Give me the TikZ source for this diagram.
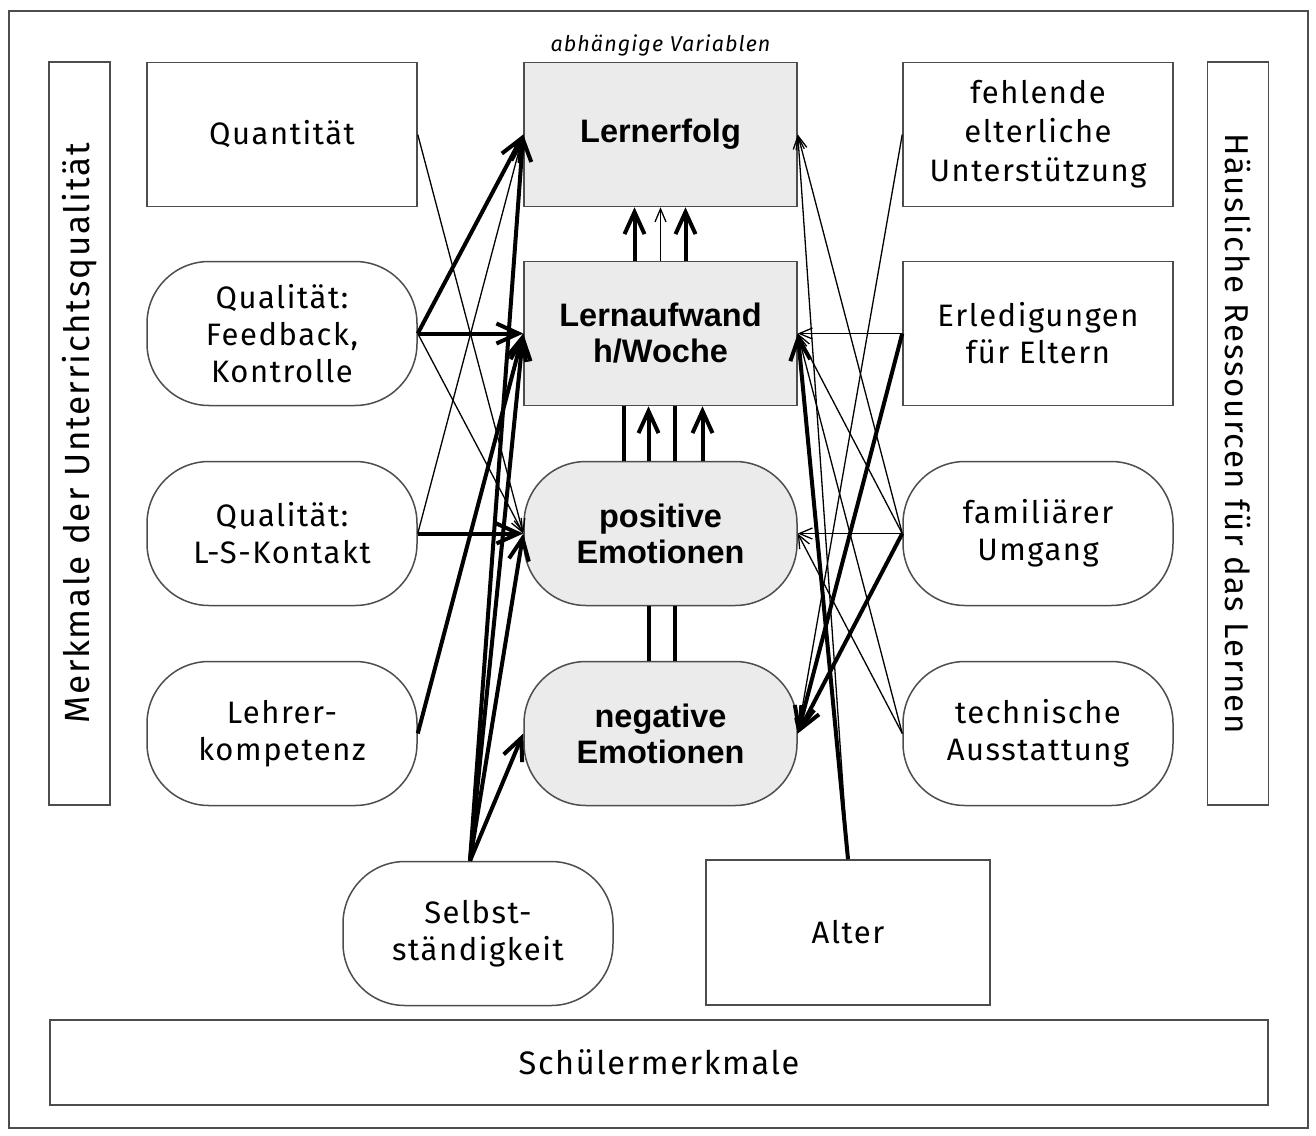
\documentclass[tikz,border=0pt]{standalone}
\usepackage{fontspec}
\setmainfont{Fira Sans}[LetterSpace=5]
\newfontfamily\arialfont{Liberation Sans}
\usetikzlibrary{arrows.meta}
\definecolor{rahmen}{HTML}{4D4D4D}
\definecolor{grau}{HTML}{EBEBEB}
\tikzset{
  kasten/.style={draw=rahmen, line width=1.5pt, minimum width=270pt, minimum height=144pt,
    inner sep=0pt, align=center, font=\fontsize{31}{37}\selectfont},
  oval/.style={kasten, rounded corners=62pt},
  abh/.style={fill=grau, minimum width=273pt, font=\arialfont\bfseries\fontsize{32.5}{36}\selectfont},
  leiste/.style={draw=rahmen, line width=1.5pt, inner sep=0pt, font=\fontsize{32.5}{36}\selectfont},
  duenn/.style={-{Straight Barb[length=13pt,width=11pt]}, line width=1.3pt},
  dick/.style={-{Straight Barb[length=22pt,width=20pt]}, line width=4pt},
  balken/.style={line width=4pt},
}
\begin{document}
\begin{tikzpicture}[x=1pt,y=-1pt]
\useasboundingbox (0,0) rectangle (1316,1135);
\draw[draw=rahmen, line width=1.5pt] (9,11) rectangle (1308,1128);
% Leisten
\node[leiste, rotate=90, minimum width=743pt, minimum height=61pt, font=\fontsize{35}{36}\selectfont] (unterricht) at (79.5,433.5) {Merkmale der Unterrichtsqualität};
\node[leiste, rotate=-90, minimum width=743pt, minimum height=61pt, font=\fontsize{33}{36}\selectfont] (haus) at (1238,433.5) {Häusliche Ressourcen für das Lernen};
\node[leiste, minimum width=1218pt, minimum height=85pt] (schueler) at (659,1062.5) {Schülermerkmale};
% links
\node[kasten] (quantitaet) at (282,134.5) {Quantität};
\node[oval] (feedback) at (282,333.5) {Qualität:\\Feedback,\\Kontrolle};
\node[oval] (kontakt) at (282,533.5) {Qualität:\\L-S-Kontakt};
\node[oval] (lehrer) at (282,733.5) {Lehrer-\\kompetenz};
% abhaengige Variablen
\node[font=\itshape\fontsize{21.5}{24}\selectfont] (titel) at (660.5,45) {abhängige Variablen};
\node[kasten, abh] (erfolg) at (660.5,134.5) {Lernerfolg};
\node[kasten, abh] (aufwand) at (660.5,333.5) {Lernaufwand\\h/Woche};
\node[oval, abh] (positiv) at (660.5,533.5) {positive\\Emotionen};
\node[oval, abh] (negativ) at (660.5,733.5) {negative\\Emotionen};
% rechts
\node[kasten, font=\fontsize{31}{39}\selectfont] (eltern) at (1038,134.5) {fehlende\\elterliche\\Unterstützung};
\node[kasten] (erledigung) at (1038,333.5) {Erledigungen\\für Eltern};
\node[oval] (umgang) at (1038,533.5) {familiärer\\Umgang};
\node[oval] (technik) at (1038,733.5) {technische\\Ausstattung};
% unten
\node[oval] (selbst) at (478,933.5) {Selbst-\\ständigkeit};
\node[kasten, minimum width=284pt, minimum height=145pt] (alter) at (848,932.5) {Alter};

% Unterrichtsqualitaet
\draw[duenn] (quantitaet.east) -- (positiv.west);
\draw[dick] (feedback.east) -- (erfolg.west);
\draw[dick] (feedback.east) -- (aufwand.west);
\draw[duenn] (feedback.east) -- (positiv.west);
\draw[duenn] (kontakt.east) -- (erfolg.west);
\draw[dick] (kontakt.east) -- (positiv.west);
\draw[dick] (lehrer.east) -- (aufwand.west);
% Selbststaendigkeit
\coordinate (sq) at ([xshift=-8pt]selbst.north);
\foreach \ziel in {erfolg,aufwand,positiv,negativ}
  \draw[dick] (sq) -- (\ziel.west);
% haeusliche Ressourcen
\draw[duenn] (eltern.west) -- (negativ.east);
\draw[duenn] (erledigung.west) -- (aufwand.east);
\draw[dick] (erledigung.west) -- (negativ.east);
\draw[duenn] (umgang.west) -- (erfolg.east);
\draw[duenn] (umgang.west) -- (aufwand.east);
\draw[duenn] (umgang.west) -- (positiv.east);
\draw[dick] (umgang.west) -- (negativ.east);
\draw[duenn] (technik.west) -- (aufwand.east);
\draw[duenn] (technik.west) -- (positiv.east);
% Alter
\draw[duenn] (alter.north) -- (erfolg.east);
\draw[dick] (alter.north) -- (aufwand.east);
% zwischen den abhaengigen Variablen
\draw[dick] ([xshift=-26pt]aufwand.north) -- ([xshift=-26pt]erfolg.south);
\draw[duenn] (aufwand.north) -- (erfolg.south);
\draw[dick] ([xshift=25pt]aufwand.north) -- ([xshift=25pt]erfolg.south);
\draw[balken] ([xshift=-37pt]positiv.north) -- ([xshift=-37pt]aufwand.south);
\draw[dick] ([xshift=-12pt]positiv.north) -- ([xshift=-12pt]aufwand.south);
\draw[balken] ([xshift=14pt]positiv.north) -- ([xshift=14pt]aufwand.south);
\draw[dick] ([xshift=42pt]positiv.north) -- ([xshift=42pt]aufwand.south);
\draw[balken] ([xshift=-12pt]negativ.north) -- ([xshift=-12pt]positiv.south);
\draw[balken] ([xshift=14pt]negativ.north) -- ([xshift=14pt]positiv.south);
\end{tikzpicture}
\end{document}
